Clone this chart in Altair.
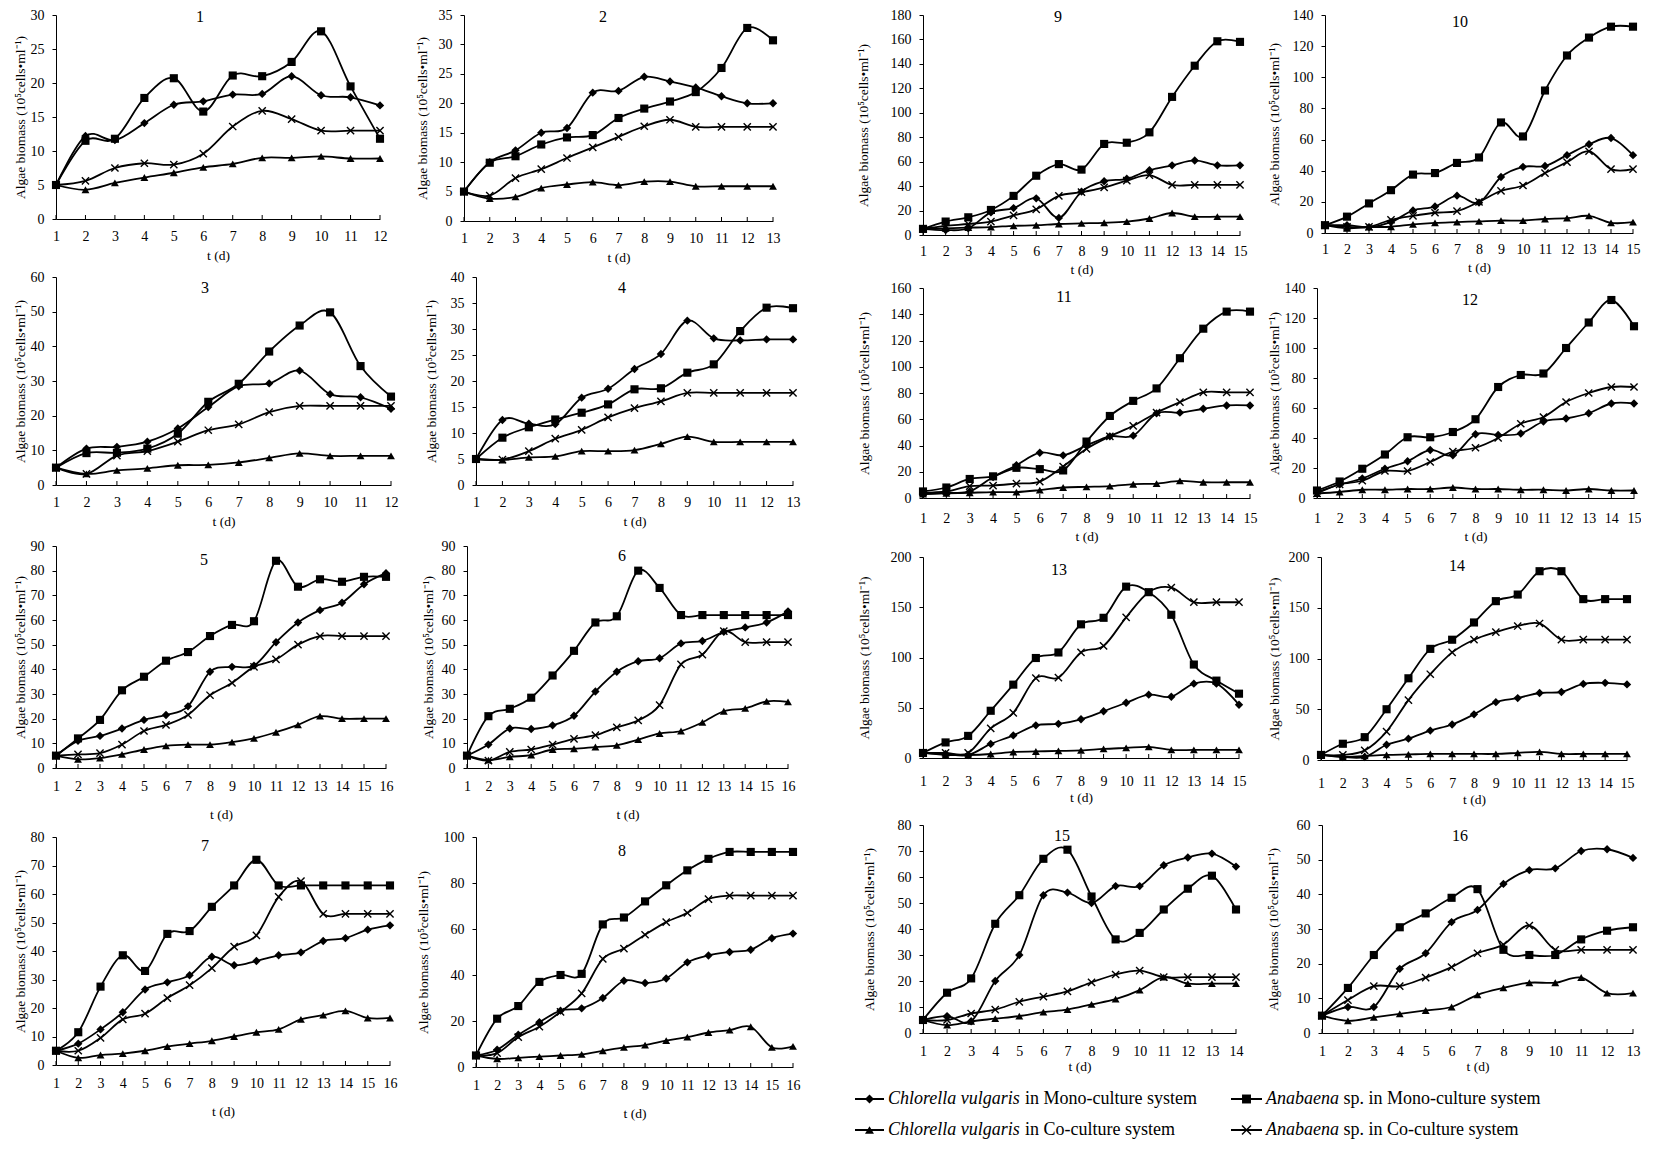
import altair as alt
import pandas as pd

FONT = "Liberation Serif"
YTITLE = "Algae biomass (10⁵cells•ml⁻¹)"
XTITLE = "t (d)"
SERIES = ["Chlorella vulgaris in Mono-culture system",
          "Anabaena sp. in Mono-culture system",
          "Chlorella vulgaris in Co-culture system",
          "Anabaena sp. in Co-culture system"]
SP_ITALIC = ["Chlorella vulgaris", "Anabaena", "Chlorella vulgaris", "Anabaena"]
SP_REST = ["in Mono-culture system", "sp. in Mono-culture system",
           "in Co-culture system", "sp. in Co-culture system"]

# ---- data: CM = Chlorella mono, AM = Anabaena mono, CC = Chlorella co, AC = Anabaena co
CM_1 = [5, 12.2, 11.6, 14.1, 16.8, 17.3, 18.3, 18.4, 21.0, 18.2, 17.9, 16.7]
AM_1 = [5, 11.5, 11.8, 17.8, 20.7, 15.8, 21.1, 21.0, 23.1, 27.6, 19.5, 11.8]
CC_1 = [5, 4.3, 5.3, 6.1, 6.8, 7.6, 8.1, 9.0, 9.0, 9.2, 8.9, 8.9]
AC_1 = [5, 5.6, 7.5, 8.2, 8.0, 9.6, 13.6, 15.9, 14.7, 13.0, 13.0, 13.0]

CM_2 = [5, 10, 12, 15, 15.8, 21.8, 22.1, 24.5, 23.7, 22.7, 21.2, 20, 20]
AM_2 = [5, 9.9, 11, 13, 14.2, 14.6, 17.5, 19.1, 20.3, 21.9, 26, 32.8, 30.7]
CC_2 = [5, 3.8, 4.1, 5.6, 6.2, 6.6, 6.1, 6.7, 6.7, 5.9, 5.9, 5.9, 5.9]
AC_2 = [5, 4.3, 7.3, 8.8, 10.7, 12.5, 14.3, 16.1, 17.2, 16, 16, 16, 16]

CM_3 = [5, 10.5, 11, 12.5, 16.3, 22.5, 28.5, 29.3, 33, 26.2, 25.3, 22]
AM_3 = [5, 9.2, 9.3, 10.5, 14.8, 24, 29.2, 38.5, 46, 49.8, 34.3, 25.5]
CC_3 = [5, 3.2, 4.2, 4.8, 5.7, 5.8, 6.5, 7.8, 9.1, 8.4, 8.4, 8.4]
AC_3 = [5, 3.2, 8.5, 9.8, 12.5, 15.8, 17.5, 21, 22.8, 22.8, 22.8, 22.8]

CM_4 = [5, 12.5, 11.8, 11.7, 16.8, 18.5, 22.3, 25.2, 31.6, 28.2, 27.8, 28, 28]
AM_4 = [5, 9.1, 11.1, 12.6, 13.9, 15.5, 18.4, 18.6, 21.6, 23.2, 29.6, 34.1, 34]
CC_4 = [5, 4.8, 5.3, 5.5, 6.5, 6.5, 6.7, 7.9, 9.3, 8.3, 8.3, 8.3, 8.3]
AC_4 = [5, 4.9, 6.5, 8.9, 10.6, 13, 14.8, 16.1, 17.7, 17.7, 17.7, 17.7, 17.7]

CM_5 = [5, 11, 13, 16, 19.5, 21.5, 25, 39, 41, 41.5, 51, 59, 64, 67, 74.5, 79]
AM_5 = [5, 12, 19.5, 31.5, 37, 43.5, 47, 53.5, 58, 59.5, 84, 73.5, 76.5, 75.5, 77.5, 77.5]
CC_5 = [5, 3.5, 4, 5.5, 7.5, 9, 9.5, 9.5, 10.5, 12, 14.5, 17.5, 21, 20, 20, 20]
AC_5 = [5, 5.5, 6, 9.5, 15, 17.5, 21.5, 29.5, 34.5, 41, 44, 50, 53.5, 53.5, 53.5, 53.5]

CM_6 = [5, 9.5, 16, 15.8, 17.3, 21.2, 31, 39, 43.3, 44.5, 50.5, 51.5, 55.2, 57, 59, 63.5]
AM_6 = [5, 21, 24, 28.5, 37.5, 47.5, 59, 61.5, 80, 73, 62, 62, 62, 62, 62, 62]
CC_6 = [5, 3.2, 4.5, 5.2, 7.5, 7.8, 8.5, 9.2, 11.5, 14, 15, 18.5, 23, 24.2, 27, 26.8]
AC_6 = [5, 3, 6.5, 7.5, 9.5, 11.8, 13.3, 16.5, 19.3, 25.5, 42, 46, 55.5, 51, 51, 51]

CM_7 = [5, 7.5, 12.5, 18.5, 26.5, 29, 31.5, 38, 35, 36.5, 38.5, 39.5, 43.5, 44.5, 47.5, 49]
AM_7 = [5, 11.5, 27.5, 38.5, 33, 46, 47, 55.5, 63, 72, 63, 63, 63, 63, 63, 63]
CC_7 = [5, 2.5, 3.5, 4, 5, 6.5, 7.5, 8.5, 10, 11.5, 12.5, 16, 17.5, 19, 16.5, 16.5]
AC_7 = [5, 5, 9.5, 16, 18, 23.5, 28, 34, 41.5, 45.5, 59, 64.5, 53, 53, 53, 53]

CM_8 = [5, 7.5, 14, 19.5, 24.5, 25.5, 30, 37.5, 36.5, 38.5, 45.5, 48.5, 50, 51, 56, 58]
AM_8 = [5, 21, 26.5, 37, 40, 40.5, 62, 65, 72, 79, 85.5, 90.5, 93.5, 93.5, 93.5, 93.5]
CC_8 = [5, 3.5, 4, 4.5, 5, 5.5, 7, 8.5, 9.5, 11.5, 13, 15, 16, 17.5, 8.5, 9]
AC_8 = [5, 6, 13, 17.5, 24, 32, 47, 51.5, 57.5, 63, 67, 73, 74.5, 74.5, 74.5, 74.5]

CM_9 = [5, 4, 5.5, 18.5, 22, 30, 14, 35.5, 44, 46, 53, 57, 61, 57, 57]
AM_9 = [5, 11, 14.5, 20.5, 32, 48.5, 58, 53.5, 74.5, 75.5, 84, 113, 138.5, 158.5, 158]
CC_9 = [5, 5.5, 6, 6.5, 7.5, 8, 9, 9.5, 10, 11, 13.5, 18, 15, 15, 15]
AC_9 = [5, 7.5, 9, 11, 16, 21, 32, 35, 39, 44.5, 49, 41, 41, 41, 41]

CM_10 = [5, 5, 3.8, 7, 14.5, 17, 24, 19.5, 36, 42.5, 43, 50, 57, 61, 50]
AM_10 = [5, 10.5, 19, 27.5, 37.5, 38.5, 45, 48.5, 71, 62, 91.5, 114, 125.5, 132.5, 132.5]
CC_10 = [5, 3, 3.8, 4, 5.5, 6.5, 7, 7.5, 8, 8, 9, 9.5, 11, 6.5, 7]
AC_10 = [5, 4, 4, 8.5, 11, 13, 14, 20, 27, 30.5, 38.5, 45.5, 52.5, 41, 41]

CM_11 = [3, 4, 5, 16, 25, 34.5, 32.5, 40, 47, 47.5, 64.5, 65, 68, 70.5, 70.5]
AM_11 = [5, 8, 14.5, 16.5, 23, 22, 21, 43, 62.5, 74, 83.5, 106.5, 129, 142, 142]
CC_11 = [3, 3.5, 4, 4.5, 4.5, 6, 8, 8.5, 9, 10.5, 11, 13, 12, 12, 12]
AC_11 = [4, 5, 9, 9.5, 11, 12.5, 24, 37.5, 47, 55, 65, 73, 80.5, 80.5, 80.5]

CM_12 = [4, 9, 13, 19.5, 24.5, 32, 28.5, 42.5, 42, 43, 51, 53, 56.5, 63, 63]
AM_12 = [5, 11, 19.5, 29, 40.5, 40.5, 44, 52.5, 74, 82, 83, 100, 117, 132, 114.5]
CC_12 = [3, 4, 5.5, 5.5, 6, 6, 7, 6, 6, 5.5, 5.5, 5, 6, 5, 5]
AC_12 = [3, 9, 11.5, 18, 18, 24, 31, 33.5, 40, 49.5, 54, 64, 70, 74, 74]

CM_13 = [5, 4, 3, 14, 22.5, 32.5, 34, 38.5, 46.5, 55, 63, 61, 74, 74, 53]
AM_13 = [5, 15.5, 22, 47, 73, 99.5, 105, 133, 139.5, 170.5, 165, 142.5, 93, 77, 64]
CC_13 = [5, 3, 3, 4, 6, 6.5, 7, 7.5, 9, 10, 11, 8, 8, 8, 8]
AC_13 = [5, 5, 5, 29.5, 45, 79.5, 80, 105, 111.5, 140, 165, 169.5, 155, 155, 155]

CM_14 = [5, 3, 3, 15, 21, 29, 35, 45, 57, 61, 66, 67, 75, 76, 74.5]
AM_14 = [5, 16, 22.5, 50, 80.5, 109.5, 118.5, 135.5, 156.5, 163, 186, 186, 158.5, 158.5, 158.5]
CC_14 = [5, 3, 4, 5, 5.5, 6, 6, 6, 6, 7, 8, 6, 6, 6, 6]
AC_14 = [5, 5, 9.5, 28, 59, 84.5, 106, 118.5, 126, 132, 134.5, 118.5, 118.5, 118.5, 118.5]

CM_15 = [5, 6.5, 4.5, 20, 30, 53, 54, 50, 56.5, 56.5, 64.5, 67.5, 69, 64]
AM_15 = [5, 15.5, 21, 42, 53, 67, 70.5, 52.5, 36, 38.5, 47.5, 55.5, 60.5, 47.5]
CC_15 = [5, 3, 4.5, 5.5, 6.5, 8, 9, 11, 13, 16.5, 21.5, 19, 19, 19]
AC_15 = [5, 5, 7.5, 9, 12, 14, 16, 19.5, 22.5, 24, 21.5, 21.5, 21.5, 21.5]

CM_16 = [5, 7.5, 7.5, 18.5, 23, 32, 35.5, 43, 47, 47.5, 52.5, 53, 50.5]
AM_16 = [5, 13, 22.5, 30.5, 34.5, 39, 41.5, 24, 22.5, 22.5, 27, 29.5, 30.5]
CC_16 = [5, 3.5, 4.5, 5.5, 6.5, 7.5, 11, 13, 14.5, 14.5, 16, 11.5, 11.5]
AC_16 = [5, 9.5, 13.5, 13.5, 16, 19, 23, 25.5, 31, 24, 24, 24, 24]

# y-axis maximum and tick step per panel
Y_MAX = [30, 35, 60, 40, 90, 90, 80, 100, 180, 140, 160, 140, 200, 200, 80, 60]
Y_STEP = [5, 5, 10, 5, 10, 10, 10, 20, 20, 20, 20, 20, 50, 50, 10, 10]

DATA = [
    (CM_1, AM_1, CC_1, AC_1), (CM_2, AM_2, CC_2, AC_2), (CM_3, AM_3, CC_3, AC_3),
    (CM_4, AM_4, CC_4, AC_4), (CM_5, AM_5, CC_5, AC_5), (CM_6, AM_6, CC_6, AC_6),
    (CM_7, AM_7, CC_7, AC_7), (CM_8, AM_8, CC_8, AC_8), (CM_9, AM_9, CC_9, AC_9),
    (CM_10, AM_10, CC_10, AC_10), (CM_11, AM_11, CC_11, AC_11), (CM_12, AM_12, CC_12, AC_12),
    (CM_13, AM_13, CC_13, AC_13), (CM_14, AM_14, CC_14, AC_14), (CM_15, AM_15, CC_15, AC_15),
    (CM_16, AM_16, CC_16, AC_16),
]

# ---- layout (page pixel coordinates)
LCOL = [(8, 405), (405, 800)]
RCOL = [(800, 1262), (1262, 1639)]
LROW = [(8, 265), (265, 532), (532, 825), (825, 1120)]
RROW = [(8, 277), (277, 544), (544, 810), (810, 1075)]
LEGEND_BOX = (800, 1075, 1639, 1142)
RIGHT_ORIGIN = 923   # shared left edge of the right block's first-column plots
# plot rect, y-title offset, x label offset, x title offset, panel-number position
GEO = {
    1: ((56, 15, 380, 219), 29, 16, 34, (200, 17)),
    2: ((464, 15, 773, 221), 35, 16, 34, (603, 17)),
    3: ((56, 277, 391, 485), 29, 16, 34, (205, 288)),
    4: ((476, 277, 793, 485), 38, 16, 34, (622, 288)),
    5: ((56, 546, 386, 768), 29, 17, 44, (204, 560)),
    6: ((467, 546, 788, 768), 32, 17, 44, (622, 556)),
    7: ((56, 837, 390, 1065), 29, 17, 44, (205, 846)),
    8: ((476, 837, 793, 1067), 46, 17, 44, (622, 851)),
    9: ((923, 15, 1240, 235), 53, 15, 32, (1058, 17)),
    10: ((1325, 15, 1633, 233), 44, 15, 32, (1460, 22)),
    11: ((923, 288, 1250, 498), 52, 19, 36, (1064, 297)),
    12: ((1317, 288, 1634, 498), 36, 19, 36, (1470, 300)),
    13: ((923, 557, 1239, 758), 52, 22, 37, (1059, 570)),
    14: ((1321, 557, 1627, 760), 40, 22, 37, (1457, 566)),
    15: ((923, 825, 1236, 1033), 47, 17, 31, (1062, 836)),
    16: ((1322, 825, 1633, 1033), 42, 17, 31, (1460, 836)),
}
XPATH = "M-1,-1L1,1M-1,1L1,-1"


def frame_layer(x1, x2, y1, y2):
    return alt.Chart(pd.DataFrame({"a": [0]})).mark_rect(opacity=0).encode(
        x=alt.value(x1), x2=alt.value(x2), y=alt.value(y1), y2=alt.value(y2))


def make_panel(k, cell):
    cm, am, cc, ac = DATA[k - 1]
    ymax, ystep = Y_MAX[k - 1], Y_STEP[k - 1]
    (px1, py1, px2, py2), yoff, xlab, xtit, tpos = GEO[k]
    cx1, cx2, cy1, cy2 = cell
    W, H = px2 - px1, py2 - py1
    n = len(cm)
    days = list(range(1, n + 1))
    df = pd.DataFrame({
        "day": days * 4,
        "v": cm + am + cc + ac,
        "s": sum([[s] * n for s in SERIES], []),
    })
    xenc = alt.X("day:Q",
                 scale=alt.Scale(domain=[1, n], nice=False, zero=False),
                 axis=alt.Axis(values=days, format="d", title=XTITLE, ticks=False, tickSize=0,
                               labelPadding=xlab - 6, titlePadding=xtit - 6,
                               minExtent=1, maxExtent=1, labelFlush=False,
                               labelOverlap=False, grid=False))
    yenc = alt.Y("v:Q",
                 scale=alt.Scale(domain=[0, ymax], nice=False, zero=True),
                 axis=alt.Axis(values=list(range(0, ymax + 1, ystep)), format="d", title=YTITLE,
                               tickSize=4, labelPadding=8, titlePadding=yoff - 1,
                               minExtent=1, maxExtent=1, labelOverlap=False, grid=False))
    base = alt.Chart(df)
    lines = base.mark_line(interpolate="cardinal", color="black", strokeWidth=1.8).encode(
        x=xenc, y=yenc, detail="s:N")
    filled = base.transform_filter(
        alt.FieldOneOfPredicate(field="s", oneOf=SERIES[:3])
    ).mark_point(filled=True, color="black", opacity=1).encode(
        x=xenc, y=yenc,
        shape=alt.Shape("s:N", scale=alt.Scale(domain=SERIES[:3],
                                               range=["diamond", "square", "triangle-up"]),
                        legend=None),
        size=alt.Size("s:N", scale=alt.Scale(domain=SERIES[:3], range=[70, 62, 62]),
                      legend=None),
    )
    cross = base.transform_filter(
        alt.FieldEqualPredicate(field="s", equal=SERIES[3])
    ).mark_point(shape=XPATH, filled=False, color="black", size=52, strokeWidth=1.4,
                 opacity=1).encode(x=xenc, y=yenc)
    ticks = alt.Chart(pd.DataFrame({"day": days})).mark_rule(color="black", strokeWidth=1).encode(
        x=xenc, y=alt.value(H), y2=alt.value(H - 4))
    title = alt.Chart(pd.DataFrame({"t": [str(k)]})).mark_text(
        font=FONT, fontSize=16, color="black", baseline="middle", align="center").encode(
        text="t:N", x=alt.value(tpos[0] - px1), y=alt.value(tpos[1] - py1))
    frame = frame_layer(cx1 - px1, cx2 - px1, cy1 - py1, cy2 - py1)
    return alt.layer(frame, lines, filled, cross, ticks, title).properties(width=W, height=H)


def make_legend():
    x0, y0, x1, y1 = LEGEND_BOX
    ox = RIGHT_ORIGIN
    W, H = x1 - ox, y1 - y0
    layers = [frame_layer(x0 - ox, W, 0, H)]
    # (line start x in page coords, row y, italic width)
    spots = [(855, 24, 132.5), (1231, 24, 73), (855, 55, 132.5), (1231, 55, 73)]
    shapes = ["diamond", "square", "triangle-up", XPATH]
    for i, (px, ly, iw) in enumerate(spots):
        lx = px - ox
        lw = 29 if i % 2 == 0 else 31
        d = pd.DataFrame({"t": [SP_ITALIC[i]], "r": [SP_REST[i]]})
        c = alt.Chart(d)
        layers.append(c.mark_rule(color="black", strokeWidth=2).encode(
            x=alt.value(lx), x2=alt.value(lx + lw), y=alt.value(ly)))
        layers.append(c.mark_point(shape=shapes[i], filled=(i < 3), color="black",
                                   size=80, opacity=1, strokeWidth=1.4).encode(
            x=alt.value(lx + lw / 2), y=alt.value(ly)))
        tx = lx + lw + 4
        layers.append(c.mark_text(font=FONT, fontSize=18, fontStyle="italic", color="black",
                                  align="left", baseline="middle").encode(
            text="t:N", x=alt.value(tx), y=alt.value(ly)))
        layers.append(c.mark_text(font=FONT, fontSize=18, color="black",
                                  align="left", baseline="middle").encode(
            text="r:N", x=alt.value(tx + iw + 4.5), y=alt.value(ly)))
    return alt.layer(*layers).properties(width=W, height=H)


def row(*charts):
    return alt.concat(*charts, columns=len(charts), spacing=0, align="none", bounds="full")


def col(*charts):
    return alt.concat(*charts, columns=1, spacing=0, align="none", bounds="full")


left_rows = []
for r in range(4):
    left_rows.append(row(*[make_panel(r * 2 + c + 1,
                                      (LCOL[c][0], LCOL[c][1], LROW[r][0], LROW[r][1]))
                           for c in range(2)]))
right_rows = []
for r in range(4):
    right_rows.append(row(*[make_panel(8 + r * 2 + c + 1,
                                       (RCOL[c][0], RCOL[c][1], RROW[r][0], RROW[r][1]))
                            for c in range(2)]))
right_rows.append(make_legend())

chart = row(col(*left_rows), col(*right_rows)).properties(
    padding=0, background="white"
).configure_view(stroke=None).configure_axis(
    labelFont=FONT, labelFontSize=14, labelColor="black",
    titleFont=FONT, titleFontSize=13.5, titleFontWeight="normal", titleColor="black",
    domainColor="black", domainWidth=1, tickColor="black", tickWidth=1,
)

chart.save("out.html", embed_options={"renderer": "svg", "actions": False})
